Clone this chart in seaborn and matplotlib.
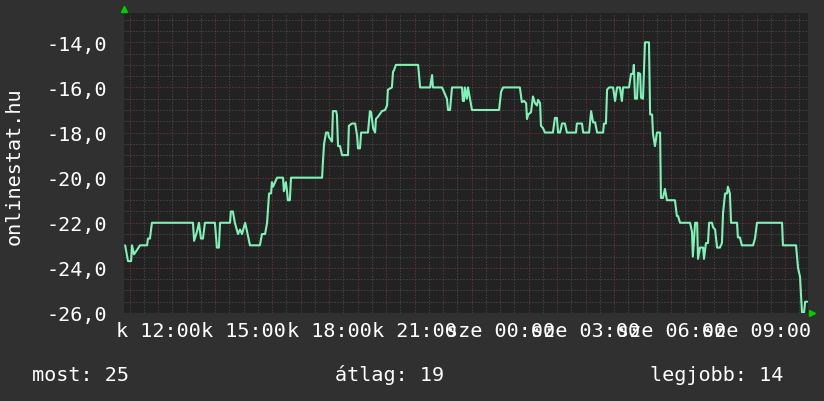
import matplotlib
matplotlib.use('Agg')
import matplotlib.pyplot as plt
import seaborn as sns
from matplotlib.ticker import FixedLocator, MultipleLocator, FuncFormatter

# idő (óra, 10:48-tól indulva, a második nap órái 24 fölött) és helyezés (negatívan ábrázolva)
hours = [10.84, 10.94, 11.05, 11.08, 11.15, 11.26, 11.36, 11.61, 11.64, 11.71, 11.78,
         13.22, 13.26, 13.36, 13.43, 13.50, 13.57, 13.64, 13.99, 14.06, 14.13, 14.17,
         14.52, 14.55, 14.62, 14.69, 14.80, 14.87, 14.94, 15.05, 15.12, 15.22, 15.57,
         15.64, 15.75, 15.82, 15.89, 15.96, 15.99, 16.03, 16.10, 16.17, 16.38, 16.41,
         16.48, 16.52, 16.55, 16.62, 16.66, 17.75, 17.78, 17.82, 17.89, 17.96, 17.99,
         18.10, 18.13, 18.24, 18.27, 18.31, 18.38, 18.45, 18.66, 18.69, 18.80, 18.91,
         18.98, 19.01, 19.08, 19.12, 19.36, 19.43, 19.47, 19.54, 19.61, 19.64, 19.71,
         19.85, 19.96, 20.03, 20.06, 20.20, 20.24, 20.27, 20.34, 21.12, 21.19, 21.54,
         21.61, 21.64, 21.96, 22.06, 22.13, 22.17, 22.24, 22.31, 22.66, 22.69, 22.73,
         22.76, 22.83, 22.87, 22.94, 23.01, 23.96, 24.03, 24.10, 24.69, 24.76, 24.84,
         24.91, 24.94, 24.98, 25.08, 25.15, 25.22, 25.29, 25.33, 25.40, 25.43, 25.50,
         25.57, 25.85, 25.92, 25.99, 26.03, 26.10, 26.17, 26.27, 26.34, 26.66, 26.69,
         26.87, 26.91, 27.12, 27.19, 27.26, 27.33, 27.40, 27.61, 27.64, 27.71, 27.75,
         27.82, 27.96, 28.03, 28.10, 28.20, 28.27, 28.31, 28.52, 28.59, 28.66, 28.69,
         28.73, 28.80, 28.84, 28.91, 28.94, 29.01, 29.08, 29.22, 29.26, 29.33, 29.36,
         29.43, 29.50, 29.61, 29.64, 29.71, 29.78, 29.85, 30.13, 30.20, 30.24, 30.31,
         30.66, 30.73, 30.76, 30.84, 30.91, 30.94, 31.01, 31.12, 31.15, 31.22, 31.29,
         31.33, 31.43, 31.47, 31.54, 31.61, 31.71, 31.78, 31.82, 31.89, 31.96, 31.99,
         32.06, 32.10, 32.31, 32.34, 32.41, 32.48, 32.87, 32.94, 33.01, 33.89, 33.92,
         34.38, 34.45, 34.52, 34.59, 34.66, 34.70, 34.77]
rank = [-23.0, -23.7, -23.7, -23.0, -23.4, -23.2, -23.0, -23.0, -22.7, -22.7, -22.0,
        -22.0, -22.8, -22.4, -22.0, -22.7, -22.7, -22.0, -22.0, -23.1, -23.1, -22.0,
        -22.0, -21.5, -21.5, -22.0, -22.5, -22.3, -22.5, -22.0, -22.4, -23.0, -23.0,
        -22.5, -22.5, -22.0, -20.7, -20.7, -20.2, -20.4, -20.2, -20.0, -20.0, -20.6,
        -20.2, -20.6, -21.0, -21.0, -20.0, -20.0, -19.3, -18.5, -18.0, -18.0, -18.2,
        -18.4, -17.05, -17.05, -17.2, -18.6, -18.6, -19.0, -19.0, -17.7, -17.6, -17.6,
        -18.15, -18.7, -18.7, -18.0, -18.0, -17.05, -17.1, -17.8, -18.0, -17.4, -17.3,
        -17.05, -17.0, -16.8, -16.1, -16.0, -15.3, -15.25, -15.0, -15.0, -16.0, -16.0,
        -15.45, -16.0, -16.0, -16.3, -16.5, -17.0, -17.0, -16.0, -16.0, -16.6, -16.6,
        -16.0, -16.5, -16.0, -16.5, -17.0, -17.0, -16.2, -16.0, -16.0, -16.65, -16.6,
        -16.7, -17.4, -17.2, -17.1, -16.4, -16.7, -16.8, -16.55, -16.7, -17.7, -17.8,
        -18.0, -18.0, -17.35, -17.35, -18.0, -18.0, -17.6, -17.6, -18.0, -18.0, -17.6,
        -17.6, -18.0, -18.0, -17.05, -17.55, -17.55, -18.0, -18.0, -17.6, -17.6, -16.1,
        -16.0, -16.0, -16.6, -16.0, -16.0, -16.6, -16.0, -16.0, -15.4, -15.4, -15.0,
        -16.5, -16.5, -15.35, -15.4, -16.45, -16.5, -14.0, -14.0, -17.2, -17.2, -18.05,
        -18.6, -18.0, -18.0, -20.9, -20.9, -20.5, -21.0, -21.0, -21.7, -21.7, -22.0,
        -22.0, -22.4, -23.5, -22.0, -22.0, -23.6, -23.1, -23.1, -23.6, -22.9, -22.9,
        -22.0, -22.0, -22.2, -22.3, -23.1, -23.1, -22.9, -21.55, -20.7, -20.7, -20.4,
        -20.7, -22.0, -22.0, -22.65, -22.65, -23.0, -23.0, -22.7, -22.0, -22.0, -23.0,
        -23.0, -24.0, -24.4, -26.0, -26.0, -25.5, -25.5]

tick_hours = [12, 15, 18, 21, 24, 27, 30, 33]
tick_labels = ['k 12:00', 'k 15:00', 'k 18:00', 'k 21:00',
               'sze 00:00', 'sze 03:00', 'sze 06:00', 'sze 09:00']
stat_labels = ['most: 25', 'átlag: 19', 'legjobb: 14']

bg = '#303030'
sns.set_theme(style='dark', rc={'figure.facecolor': bg, 'axes.facecolor': '#222222',
                                'text.color': 'white', 'xtick.color': 'white',
                                'ytick.color': 'white', 'axes.labelcolor': 'white'})
plt.rcParams['font.family'] = ['DejaVu Sans Mono', 'DejaVu Sans']

fig = plt.figure(figsize=(8.24, 4.02), dpi=100)
ax = fig.add_axes([124 / 824, 1 - 314 / 402, 684 / 824, 300 / 402])

# rács: szürke pontozott mellék-, piros pontozott fővonalak
ax.yaxis.set_major_locator(MultipleLocator(2))
ax.yaxis.set_minor_locator(MultipleLocator(0.5))
ax.xaxis.set_major_locator(FixedLocator(list(range(11, 35))))
ax.xaxis.set_minor_locator(MultipleLocator(0.5))
ax.grid(which='minor', color='#555555', linestyle=(0, (1, 2)), linewidth=0.72)
ax.grid(which='major', color='#7a3a3a', linestyle=(0, (1, 2)), linewidth=0.72)
ax.set_axisbelow(True)

sns.lineplot(x=hours, y=rank, ax=ax, color='#80f2b8', linewidth=1.5,
             estimator=None, sort=False)

ax.set_xlim(10.8, 34.8)
ax.set_ylim(-26, -12.7)
ax.yaxis.set_major_formatter(FuncFormatter(lambda v, p: f'{v:.1f}'.replace('.', ',')))
ax.set_xticklabels([tick_labels[tick_hours.index(h)] if h in tick_hours else ''
                    for h in range(11, 35)])
ax.tick_params(axis='x', which='both', length=0, pad=5.5, labelsize=14.5)
ax.tick_params(axis='y', which='both', length=0, pad=12, labelsize=14.5)
for s in ax.spines.values():
    s.set_visible(False)

# zöld nyilak a tengelyvégeken
ax.plot([0], [1.013], marker='^', color='#00d000', markersize=5, transform=ax.transAxes,
        clip_on=False, linestyle='none')
ax.plot([1.006], [0], marker='>', color='#00d000', markersize=5, transform=ax.transAxes,
        clip_on=False, linestyle='none')

fig.text(14 / 824, 1 - 166 / 402, 'onlinestat.hu', rotation=90, ha='center',
         va='center', fontsize=14.5, color='white')
for x_px, lab in zip([32, 335, 650], stat_labels):
    fig.text(x_px / 824, 1 - 381 / 402, lab, ha='left', va='baseline',
             fontsize=14.5, color='white')

fig.savefig('out.png', dpi=100, facecolor=bg)
